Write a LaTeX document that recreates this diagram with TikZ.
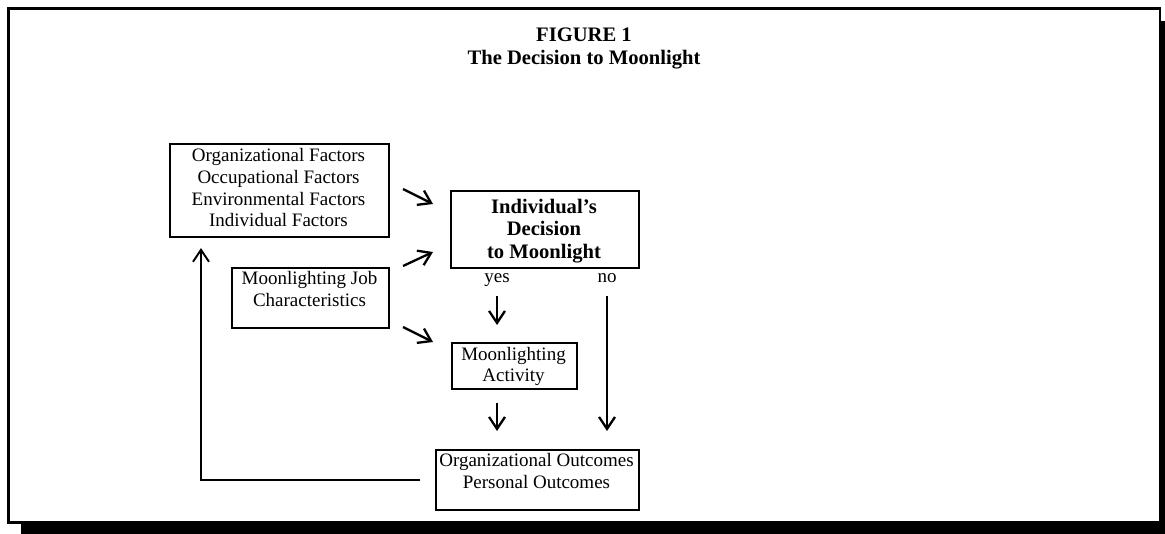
\documentclass[tikz,border=0pt]{standalone}
\usepackage{fontspec}
\setmainfont{Liberation Serif}
\usetikzlibrary{arrows.meta}
\begin{document}
\begin{tikzpicture}[x=1pt,y=-1pt,
  box/.style={draw, line width=1.6pt, inner sep=0pt, anchor=north west},
  txt/.style={align=center, font=\fontsize{19}{21.7}\selectfont, inner sep=0pt},
  btxt/.style={align=center, font=\fontsize{20.6}{22.6}\selectfont\bfseries, inner sep=0pt},
  arr/.style={line width=2.3pt, -{Straight Barb[length=12pt,width=16pt]}},
]
\useasboundingbox (0,0) rectangle (1165,533);
\clip (0,0) rectangle (1165,533);
% frame with shadow
\fill (21,21) rectangle (1180,545);
\draw[line width=2.6pt, fill=white] (8.3,8.3) rectangle (1160,522.5);
% title
\node[btxt] (title) at (584,48.4) {FIGURE 1\\The Decision to Moonlight};
% boxes
\node[box, minimum width=219pt, minimum height=93pt] (facbox) at (169,143) {};
\node[box, minimum width=188pt, minimum height=77pt] (decbox) at (450,190) {};
\node[box, minimum width=157pt, minimum height=60pt] (jobbox) at (231,267) {};
\node[box, minimum width=125pt, minimum height=46pt] (actbox) at (451,342) {};
\node[box, minimum width=203pt, minimum height=60pt] (outbox) at (435,449) {};
% texts
\node[txt] (fac) at (278.5,187.7) {Organizational Factors\\Occupational Factors\\Environmental Factors\\Individual Factors};
\node[btxt] (dec) at (544,230.8) {Individual’s\\Decision\\to Moonlight};
\node[txt] (job) at (309.5,289) {Moonlighting Job\\Characteristics};
\node[txt] (act) at (513.5,366.5) {Moonlighting\\Activity};
\node[txt] (out) at (536.5,471) {Organizational Outcomes\\Personal Outcomes};
\node[txt, anchor=base] (yes) at (497,282) {yes};
\node[txt, anchor=base] (no) at (607,282) {no};
% connector ends
\coordinate (a1s) at (403,189); \coordinate (a1e) at (433,204);
\coordinate (a2s) at (403,266); \coordinate (a2e) at (433,252);
\coordinate (a3s) at (403,327); \coordinate (a3e) at (433,342);
\coordinate (ys) at (497,296);  \coordinate (ye) at (497,325);
\coordinate (ns) at (607,296);  \coordinate (ne) at (607,431);
\coordinate (as) at (497,403);  \coordinate (ae) at (497,431);
\coordinate (f0) at (420,480);  \coordinate (f1) at (201,480); \coordinate (f2) at (201,248);
% connectors
\draw[arr] (a1s) -- (a1e);
\draw[arr] (a2s) -- (a2e);
\draw[arr] (a3s) -- (a3e);
\draw[arr] (ys) -- (ye);
\draw[arr] (ns) -- (ne);
\draw[arr] (as) -- (ae);
\draw[arr, line width=2pt] (f0) -- (f1) -- (f2);
\end{tikzpicture}
\end{document}
